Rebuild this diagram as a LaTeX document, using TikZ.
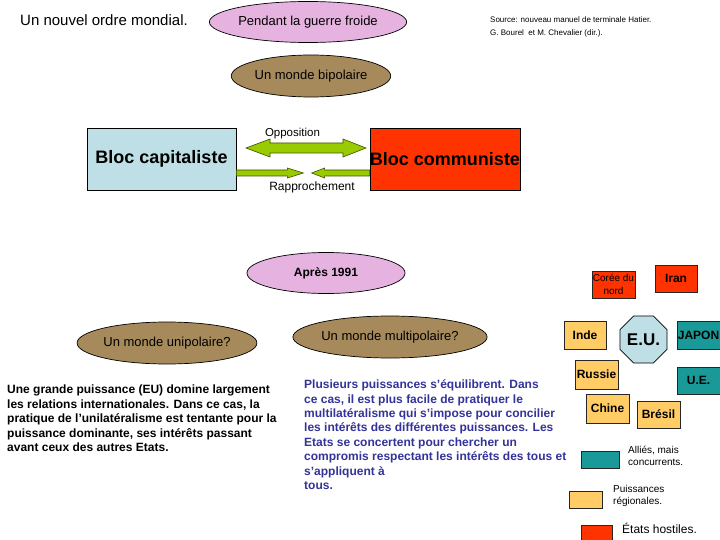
\documentclass[tikz,border=0pt]{standalone}
\usepackage{fontspec}
\setmainfont{Liberation Sans}
\usetikzlibrary{shapes.geometric}
\definecolor{pinkE}{HTML}{E6B3E0}
\definecolor{brownE}{HTML}{A68A5B}
\definecolor{blueB}{HTML}{BEDFE5}
\definecolor{redB}{HTML}{FF3300}
\definecolor{greenA}{HTML}{99CC00}
\definecolor{greenD}{HTML}{3F5200}
\definecolor{tealB}{HTML}{1A9999}
\definecolor{orangeB}{HTML}{FFCC66}
\definecolor{navyT}{HTML}{333399}
\tikzset{
  ell/.style={ellipse, draw=black, line width=0.7pt, inner sep=0pt, font=\fontsize{13}{15}\selectfont},
  cbox/.style={rectangle, draw=black!85, line width=0.7pt, inner sep=0pt, font=\fontsize{12}{14}\selectfont\bfseries},
  bloc/.style={rectangle, draw=black, line width=0.7pt, inner sep=0pt, minimum width=149, minimum height=62, font=\fontsize{18}{20}\selectfont\bfseries},
  blockarrow/.style={fill=greenA, draw=greenD, line width=0.6pt, line join=miter},
  para/.style={anchor=base west, align=left, inner sep=0pt, font=\fontsize{12}{14.4}\selectfont\bfseries},
  small/.style={anchor=base west, align=left, inner sep=0pt, font=\fontsize{10}{12}\selectfont},
}
\begin{document}
\begin{tikzpicture}[x=1pt,y=-1pt]
\useasboundingbox[fill=white] (0,0) rectangle (720,540);

% titles (multi-line nodes: base anchor = baseline of the last line)
\node[anchor=base west, inner sep=0pt, font=\fontsize{15}{17}\selectfont] (title) at (20,25.5) {Un nouvel ordre mondial.};
\node[anchor=base west, align=left, inner sep=0pt, font=\fontsize{8}{13}\selectfont] (source) at (490,36)
  {Source: nouveau manuel de terminale Hatier.\\G. Bourel\ \ et M. Chevalier (dir.).};

% ellipses
\node[ell, fill=pinkE, minimum width=151, minimum height=41] (froide) at (308,22) {Pendant la guerre froide};
\node[ell, fill=brownE, minimum width=150, minimum height=42] (bipol) at (311,76) {Un monde bipolaire};
\node[ell, fill=pinkE, minimum width=158, minimum height=41, font=\fontsize{12}{14}\selectfont\bfseries] (apres) at (326,273) {Après 1991};
\node[ell, fill=brownE, minimum width=160, minimum height=42] (unipol) at (167,343) {Un monde unipolaire?};
\node[ell, fill=brownE, minimum width=163, minimum height=42] (multipol) at (390,337) {Un monde multipolaire?};

% blocs
\node[bloc, fill=blueB] (cap) at (161.5,159) {Bloc capitaliste};
\node[bloc, fill=redB] (com) at (445,159) {Bloc communiste};

% opposition arrow
\coordinate (oppL) at (246,148);
\draw[blockarrow] (oppL) -- ++(24,-9) -- ++(0,4) -- ++(73,0) -- ++(0,-4) -- ++(23,9)
  -- ++(-23,9) -- ++(0,-4) -- ++(-73,0) -- ++(0,4) -- cycle;
\node[inner sep=0pt, font=\fontsize{11.5}{13}\selectfont] (opp) at (292.5,134) {Opposition};

% rapprochement arrows
\path (cap.east) ++(0,14) coordinate (rL);
\path (com.west) ++(0,14) coordinate (rR);
\draw[blockarrow] (rL) ++(0,-3) -- ++(51,0) -- ++(0,-2) -- ++(16,5) -- ++(-16,5) -- ++(0,-2) -- ++(-51,0) -- cycle;
\draw[blockarrow] (rR) ++(0,-3) -- ++(-45,0) -- ++(0,-2) -- ++(-13,5) -- ++(13,5) -- ++(0,-2) -- ++(45,0) -- cycle;
\node[inner sep=0pt, font=\fontsize{12}{14}\selectfont] (rapp) at (312,187) {Rapprochement};

% paragraphs
\node[para] (txtuni) at (7,451.5)
  {Une grande puissance (EU) domine largement\\les relations internationales. Dans ce cas, la\\pratique de l'unilatéralisme est tentante pour la\\puissance dominante, ses intérêts passant\\avant ceux des autres Etats.};
\node[para, text=navyT] (txtmulti) at (304,489.5)
  {Plusieurs puissances s'équilibrent. Dans\\ce cas, il est plus facile de pratiquer le\\multilatéralisme qui s'impose pour concilier\\les intérêts des différentes puissances. Les\\Etats se concertent pour chercher un\\compromis respectant les intérêts des tous et\\s'appliquent à\\tous.};

% right cluster
\node[cbox, fill=redB, minimum width=43, minimum height=27, align=center, font=\fontsize{10}{13}\selectfont] (coree) at (613.5,284.5) {Corée du\\nord};
\node[cbox, fill=redB, minimum width=42, minimum height=27] (iran) at (676,278.5) {Iran};
\node[cbox, fill=orangeB, minimum width=42, minimum height=28] (inde) at (585,335) {Inde};
\node[regular polygon, regular polygon sides=8, draw=black, line width=0.7pt, fill=blueB, minimum size=51, inner sep=0pt, font=\fontsize{17}{19}\selectfont\bfseries] (eu) at (643.5,339.5) {E.U.};
\node[cbox, fill=tealB, minimum width=43, minimum height=28] (japon) at (698.5,335) {JAPON};
\node[cbox, fill=orangeB, minimum width=43, minimum height=29] (russie) at (596.5,374.5) {Russie};
\node[cbox, fill=tealB, minimum width=43, minimum height=27] (ue) at (698.5,380.5) {U.E.};
\node[cbox, fill=orangeB, minimum width=43, minimum height=29] (chine) at (607.5,408.5) {Chine};
\node[cbox, fill=orangeB, minimum width=43, minimum height=27] (bresil) at (658.5,414.5) {Brésil};

% legend
\node[cbox, fill=tealB, minimum width=38, minimum height=17] (legT) at (600,459.5) {};
\node[small] (legTt) at (628,465.5) {Alliés, mais\\concurrents.};
\node[cbox, fill=orangeB, minimum width=33, minimum height=17] (legO) at (585.5,499.5) {};
\node[small] (legOt) at (613,504.5) {Puissances\\régionales.};
\node[cbox, fill=redB, minimum width=31, minimum height=16] (legR) at (596.5,533) {};
\node[anchor=base west, inner sep=0pt, font=\fontsize{12}{14}\selectfont] (legRt) at (622,533.5) {États hostiles.};
\end{tikzpicture}
\end{document}
